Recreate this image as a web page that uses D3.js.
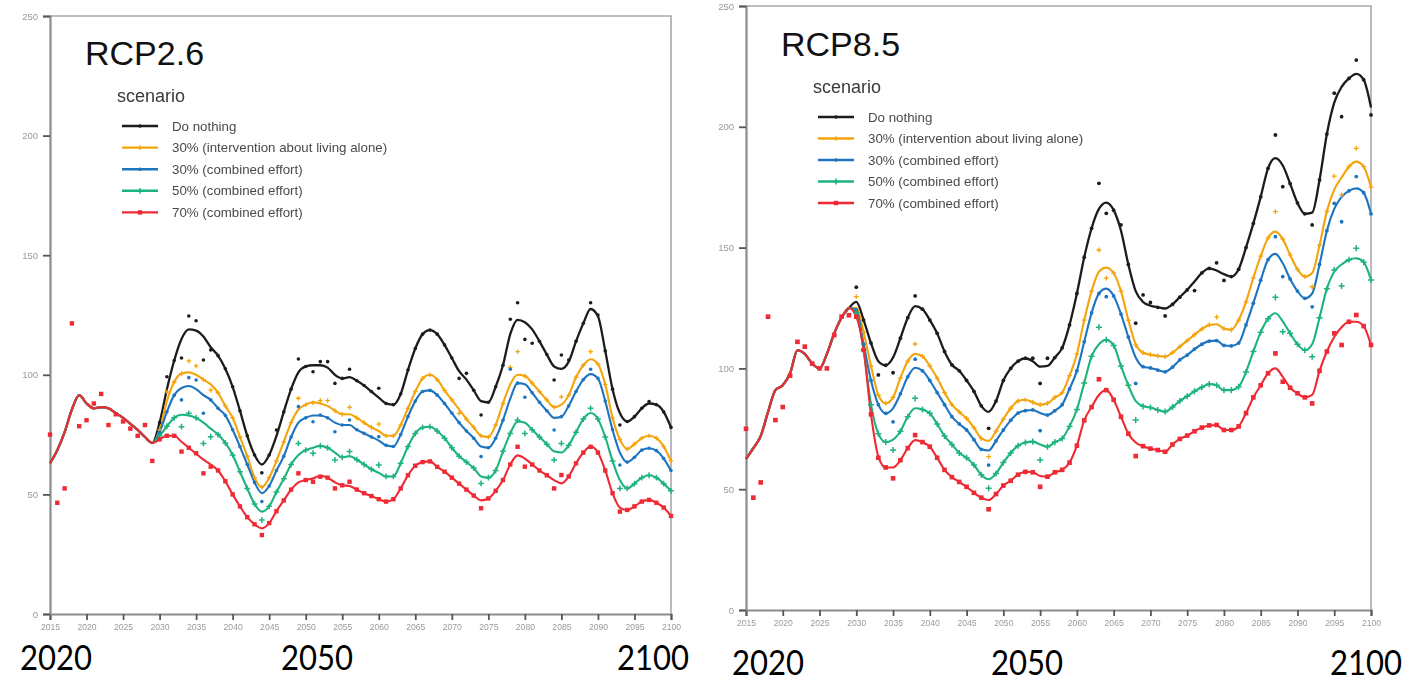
<!DOCTYPE html>
<html>
<head>
<meta charset="utf-8">
<script src="https://cdn.jsdelivr.net/npm/d3@7"></script>
<style>
  html, body { margin: 0; padding: 0; background: #fff; }
  svg { display: block; }
</style>
</head>
<body>
<svg id="chart" width="1426" height="681"></svg>
<script>
// ---- data -------------------------------------------------------------
const scenarios = [
  "Do nothing",
  "30% (intervention about living alone)",
  "30% (combined effort)",
  "50% (combined effort)",
  "70% (combined effort)"
];
const yTicks = [0, 50, 100, 150, 200, 250];
const xTicks = d3.range(2015, 2101, 5);
const xTickLabels = xTicks.map(String);
const bigYearLabels = ["2020", "2050", "2100"];

const histYears = d3.range(2015, 2030);   // 2015..2029
const projYears = d3.range(2029, 2101);   // 2029..2100

// RCP2.6
const rcp26HistSmooth = [63, 68.5, 76, 85.5, 91.5, 88, 86, 86.5, 86, 84, 82, 79.5, 77, 74, 71.5];
const rcp26HistObs    = [75, 46.5, 52.5, 121.5, 78.5, 81, 88, 92, 79, 83.5, 80.5, 77.5, 74.5, 79, 64];

const rcp26DoNothing = [71.5, 80, 94, 106, 115, 119, 118.5, 116, 111.5, 108,
  102.5, 95, 85, 74.5, 66.5, 62.5, 66.5, 74.5, 84.5, 94,
  101, 103.5, 104, 104, 103, 100, 98.5, 99, 97.5, 95.5,
  93, 90.5, 88, 87.5, 92, 102, 111, 117, 118.7, 117,
  112.5, 107, 101.5, 98, 93.5, 89, 88.5, 95, 104, 117,
  123, 122, 119, 114, 108.5, 103.5, 102.5, 105.5, 114, 121.5,
  127.5, 124.5, 110, 94, 84, 80.5, 82.5, 86, 88, 87.5,
  84.5, 78];
const rcp26Alone30 = [71.5, 77, 89, 97, 100.5, 101, 100, 98, 96, 92.5,
  87, 82, 74, 66, 57, 53, 57, 64, 72, 80,
  85.5, 87.5, 88.5, 88, 87, 85, 83.5, 83.5, 82, 80,
  78, 76.5, 74.5, 74.5, 79, 86, 93, 98.5, 100, 98,
  93.5, 89.5, 85.5, 81.5, 78, 74.5, 74, 79, 88, 96,
  100, 99.5, 96.5, 93, 89.5, 86.5, 87.5, 91.5, 99, 104,
  106.5, 104.5, 96, 82, 73, 69, 71, 73.5, 74.5, 73.5,
  70, 64];
const rcp26Comb30 = [71.5, 76, 84.5, 91.5, 94.5, 95.3, 94, 91.5, 89.5, 86,
  83, 77, 70, 62.5, 55, 50.5, 53.5, 60, 66, 74,
  80, 82, 83, 83, 82, 80, 79, 79, 77, 75.5,
  74, 72.5, 70.5, 70, 75, 82.5, 89, 93, 93.5, 91.5,
  88, 84, 80, 76.5, 73.5, 70, 69.5, 73.5, 81, 90,
  96.5, 96, 92.5, 88.5, 85, 82, 82.5, 87, 93, 98,
  100.3, 98.5, 89, 77, 67.5, 63.5, 65.5, 68.5, 69.3, 68.3,
  65, 60];
const rcp26Comb50 = [71.5, 74.5, 78.5, 82, 83.3, 83, 82, 80, 77.5, 75,
  71.5, 66.5, 59.5, 52.5, 46, 42.8, 45, 51, 56.5, 62.5,
  66.5, 68.5, 69.5, 70.3, 69.5, 67.5, 65.5, 66, 64.5, 62.5,
  60.5, 59, 57.5, 57.5, 63, 70, 75.5, 78, 78.3, 76.5,
  73.5, 69.5, 66, 63.5, 61, 57.5, 57, 60, 68, 75.5,
  80.5, 80, 77, 74, 71, 68, 67.5, 70.5, 76, 81.5,
  84, 81.5, 74, 64, 56, 52.5, 54.5, 57, 58, 57,
  54.5, 51.5];
const rcp26Comb70 = [71.5, 73, 74.5, 74.5, 72, 69.5, 67, 64.5, 62.5, 60,
  55.5, 50, 45, 40.5, 37.5, 35.8, 38, 43, 47.5, 52,
  55, 56, 56.7, 57.8, 57, 55, 53.8, 53.5, 52, 50.5,
  49.3, 48, 47, 48, 52.5, 58, 62, 63.5, 63.8, 61.5,
  59.5, 57, 54.5, 52, 49.5, 47.5, 48.3, 51.5, 56, 62.5,
  66.3, 65, 62.5, 60, 58, 56, 54.6, 57.5, 63, 67.5,
  70, 67.5, 60, 50.5, 44.5, 43.5, 45, 47, 47.7, 46.5,
  44.5, 41];

// yearly values lying clearly off the smoothed curves, [year, value]
const rcp26DoNothingPts = [[2031,99.2],[2033,107],[2034,124.6],[2035,122.6],[2036,106.2],[2037,110.4],
  [2044,59],[2046,76.9],[2049,106.6],[2051,101.3],[2052,105.5],[2053,105.5],[2054,96.4],[2056,102.3],
  [2060,94.4],[2071,98.5],[2072,100.6],[2074,83.2],[2078,123.2],[2079,130.1],[2080,114.8],[2081,113.2],
  [2084,97.8],[2085,108.3],[2086,106.2],[2089,130.1],[2090,125],[2093,79],[2097,88.8]];
const rcp26Alone30Pts = [[2031,92.9],[2034,105.8],[2035,103.7],[2037,93.6],[2049,90.2],[2051,88.3],
  [2052,89.2],[2053,89.2],[2056,86.4],[2060,79.4],[2071,83.9],[2078,103.1],[2079,109.7],[2085,90.8],[2089,109.7]];
const rcp26Comb30Pts = [[2033,89.5],[2034,98.8],[2035,97.8],[2036,83.9],[2044,47],[2049,86.7],[2051,80.4],
  [2052,83.2],[2054,76.2],[2056,81.1],[2060,74.1],[2074,65.8],[2078,102.3],[2080,90.6],[2084,76.9],
  [2089,102.3],[2093,62.3]];
const rcp26Comb50Pts = [[2033,78.3],[2034,83.9],[2036,71.3],[2037,74.1],[2044,39.3],[2049,71.3],[2051,67.2],
  [2054,64.4],[2056,67.9],[2060,62.3],[2074,54.6],[2079,81.1],[2080,75.5],[2084,64.4],[2085,71.3],
  [2089,86],[2093,52.5]];
const rcp26Comb70Pts = [[2033,67.9],[2035,67.2],[2036,58.8],[2037,61.6],[2044,33],[2049,58.8],[2051,55.3],
  [2052,57.4],[2054,52.5],[2056,55.3],[2074,44.2],[2079,69.9],[2080,61.6],[2084,52.5],[2085,58.1],
  [2089,69.9],[2093,42.8]];

// RCP8.5
const rcp85HistSmooth = [62.5, 67, 72, 82, 91, 93, 98, 107.5, 106, 102, 100, 106, 114.5, 121, 125];
const rcp85HistObs    = [75, 46.5, 52.8, 121.4, 78.6, 84, 97, 111, 109, 102, 100, 100, 113.8, 121.4, 122];

const rcp85DoNothing = [125, 127.5, 120, 110.5, 103, 101.3, 104.5, 112.5, 121, 125.8,
  124.5, 120, 114.5, 107, 101.5, 99, 95, 90.5, 84.5, 82,
  86.5, 95, 100, 103, 104.2, 103, 100.7, 101, 104.5, 108.5,
  118, 131, 146, 158, 166, 168.6, 165.5, 157, 143, 132,
  127.5, 126, 125.3, 124.8, 126.5, 129.5, 132.5, 136, 139.5, 141.4,
  140.5, 139, 138, 141, 150, 160, 171, 182.8, 187, 184,
  176.5, 168.5, 164, 164.5, 178, 197, 210, 216.5, 220, 221.9,
  219.5, 208];
const rcp85Alone30 = [125, 125, 115, 101, 89, 85.5, 88, 96, 103, 106,
  105, 101, 96, 90, 85, 82, 79.3, 75.5, 71, 70,
  74, 79, 83.5, 86.5, 87, 86, 85, 85.5, 88, 90,
  97, 106, 120, 132, 140, 141.7, 139.4, 132, 120, 110,
  106.5, 105.7, 105.2, 104.9, 106.5, 109, 111.5, 114, 116.3, 118,
  118.3, 116.5, 116, 120, 127.5, 137.5, 146.5, 154, 156.6, 153.5,
  147, 141, 138, 139.5, 151, 165, 174, 179, 183.5, 185.6,
  183.5, 175];
const rcp85Comb30 = [125, 124.2, 110, 95, 85, 81.4, 83.5, 89.5, 96.5, 100.3,
  99, 95, 90, 85, 80, 77, 74.5, 70.5, 66.5, 66,
  70, 74.5, 78.5, 81.5, 82.5, 82.8, 81.5, 80.7, 82.5, 85,
  91.5, 99, 111, 123, 131, 133, 130, 122.5, 113, 104.5,
  100.7, 100.2, 99.3, 98.6, 100.5, 103.5, 105.5, 108, 110, 111.3,
  111.5, 109.5, 109.3, 110.5, 118, 127, 136.5, 145, 147.4, 143.5,
  137, 132, 129, 131, 143, 157, 166, 171, 173.5, 174.5,
  172.7, 164];
const rcp85Comb50 = [125, 122.8, 107.6, 85, 73, 69.5, 70.5, 74, 80, 83.5,
  83, 81.4, 77, 72, 68.5, 65, 63, 60, 56, 54.1,
  56.5, 61, 65, 68, 69.3, 69.7, 68.5, 67.6, 69.5, 71,
  76, 83, 94, 105, 110, 111.8, 109.5, 101, 93, 86.5,
  84.3, 83.8, 82.8, 82.1, 84, 86.5, 88.5, 90.5, 92.2, 93.5,
  93, 91, 91, 92.4, 98.5, 107, 115, 120.5, 122.8, 119.5,
  114.5, 110, 107.5, 110, 121, 133, 140, 143, 145, 145.6,
  144, 136.6];
const rcp85Comb70 = [125, 121.4, 107.6, 81, 63.5, 59, 59, 62, 67, 70.3,
  69.5, 67.6, 63, 58, 55, 53, 51, 48.5, 46.5, 45.5,
  48, 51.5, 53.5, 56, 57.2, 57, 55.5, 55.2, 57, 58,
  61, 68, 78.5, 84, 89, 91, 87, 80, 73, 69.3,
  67.8, 66.8, 66.2, 65.5, 68.5, 70.8, 72.2, 74, 75.5, 76.4,
  76.6, 74.5, 74.5, 76, 81.5, 88, 93, 98, 100, 96.5,
  92, 89.7, 88, 89, 99, 107, 113, 117, 119.3, 119.3,
  117.5, 109.7];

const rcp85DoNothingPts = [[2030,133.6],[2033,97.3],[2035,98.2],[2038,130],[2048,75.2],[2054,104.2],
  [2055,93.8],[2056,104.2],[2063,176.6],[2064,164.2],[2066,159.4],[2068,118.7],[2069,130.4],[2070,127.3],
  [2072,121.7],[2076,132.2],[2079,143.7],[2080,136.4],[2087,196.6],[2088,175.2],[2092,159.4],[2095,213.9],
  [2096,204.2],[2098,227.6],[2100,204.9]];
const rcp85Alone30Pts = [[2030,129.7],[2038,110.1],[2048,63.5],[2063,149],[2064,137.4],[2068,109.7],
  [2079,121.2],[2087,164.9],[2092,133.8],[2095,179.6],[2096,171.8],[2098,191.1]];
const rcp85Comb30Pts = [[2035,77.9],[2038,103.8],[2048,60],[2055,74.2],[2064,129.7],[2068,93.8],
  [2087,154.5],[2088,138],[2092,125.5],[2095,168.3],[2096,160.7],[2098,179.4]];
const rcp85Comb50Pts = [[2035,66.2],[2038,87.6],[2048,50.4],[2055,62.1],[2063,117],[2068,78.6],
  [2087,129.4],[2088,115.2],[2092,104.8],[2095,140.7],[2096,134.1],[2098,149.7]];
const rcp85Comb70Pts = [[2033,63],[2035,54.5],[2038,72.4],[2048,41.7],[2055,51],[2063,95.5],[2068,63.7],
  [2087,106.2],[2088,94.5],[2092,85.5],[2095,114.5],[2096,109.7],[2098,122.1]];

// ---- styling ----------------------------------------------------------
const colors  = ["#1c1c1c", "#f4a40c", "#1f74c0", "#1eb47c", "#ee2a34"];
const symbols = ["dot", "plus-small", "dot", "plus", "square"];
const sans = "Liberation Sans, Arial, sans-serif";

const svg = d3.select("#chart");
const defs = svg.append("defs");
defs.append("filter").attr("id", "soft")
  .attr("x", "-5%").attr("y", "-5%").attr("width", "110%").attr("height", "110%")
  .append("feGaussianBlur").attr("stdDeviation", 0.45);

function drawMarker(g, kind, color, cx, cy, k) {
  if (kind === "dot") {
    g.append("circle").attr("cx", cx).attr("cy", cy).attr("r", 1.8 * k).attr("fill", color);
  } else if (kind === "square") {
    const s = 4.4 * k;
    g.append("rect").attr("x", cx - s / 2).attr("y", cy - s / 2).attr("width", s).attr("height", s).attr("fill", color);
  } else {
    const h = (kind === "plus" ? 2.9 : 2.3) * k;
    g.append("path")
      .attr("d", `M${cx - h},${cy}H${cx + h}M${cx},${cy - h}V${cy + h}`)
      .attr("stroke", color).attr("stroke-width", kind === "plus" ? 1.5 : 1.3).attr("fill", "none");
  }
}

function drawPanel(p) {
  const x = d3.scaleLinear().domain([2015, 2100]).range([p.left, p.right]);
  const y = d3.scaleLinear().domain([0, 250]).range([p.bottom, p.top]);
  const g = svg.append("g").attr("filter", "url(#soft)");

  // frame
  g.append("path")
    .attr("d", `M${p.left},${p.top}H${p.right}V${p.bottom}`)
    .attr("fill", "none").attr("stroke", "#a9a9a9").attr("stroke-width", 1.6);

  // axes
  const xAxis = d3.axisBottom(x).tickValues(xTicks).tickFormat((d, i) => xTickLabels[i])
    .tickSize(6).tickPadding(4);
  const yAxis = d3.axisLeft(y).tickValues(yTicks).tickSize(7).tickPadding(5);
  const gx = g.append("g").attr("transform", `translate(0,${p.bottom})`).call(xAxis);
  const gy = g.append("g").attr("transform", `translate(${p.left},0)`).call(yAxis);
  [gx, gy].forEach(a => {
    a.select(".domain").attr("stroke", "#8c8c8c").attr("stroke-width", 2.2);
    a.selectAll(".tick line").attr("stroke", "#555").attr("stroke-width", 1.8);
    a.selectAll(".tick text").attr("fill", "#9a9a9a").attr("font-family", sans);
  });
  gx.selectAll(".tick text").attr("font-size", 8.6);
  gy.selectAll(".tick text").attr("font-size", 9.5);

  // smoothed lines
  const line = d3.line().x(d => x(d[0])).y(d => y(d[1])).curve(d3.curveMonotoneX);
  const hist = histYears.map((yr, i) => [yr, p.histSmooth[i]]);
  p.series.forEach((vals, s) => {
    const pts = hist.concat(projYears.slice(1).map((yr, i) => [yr, vals[i + 1]]));
    g.append("path").datum(pts).attr("d", line)
      .attr("fill", "none").attr("stroke", colors[s])
      .attr("stroke-width", s === 0 ? 2.3 : 2.1).attr("stroke-linejoin", "round");
  });

  // yearly points
  p.series.forEach((vals, s) => {
    const off = new Map(p.points[s].map(d => [d[0], d[1]]));
    projYears.forEach((yr, i) => {
      if (yr === 2029) return;
      const v = off.has(yr) ? off.get(yr) : vals[i];
      drawMarker(g, symbols[s], colors[s], x(yr), y(v), p.k);
    });
  });
  histYears.forEach((yr, i) => drawMarker(g, "square", colors[4], x(yr), y(p.histObs[i]), p.k));

  // title
  svg.append("text").attr("x", p.titleX).attr("y", p.titleY).text(p.title)
    .attr("font-family", sans).attr("font-size", 34).attr("fill", "#111");

  // legend
  const lg = svg.append("g").attr("filter", "url(#soft)");
  lg.append("text").attr("x", p.legX).attr("y", p.legTitleY).text("scenario")
    .attr("font-family", sans).attr("font-size", 18).attr("fill", "#3a3a3a");
  scenarios.forEach((name, s) => {
    const ly = p.legY0 + s * p.legStep;
    lg.append("line").attr("x1", p.legX + 5).attr("x2", p.legX + 41).attr("y1", ly).attr("y2", ly)
      .attr("stroke", colors[s]).attr("stroke-width", 2.4);
    drawMarker(lg, symbols[s], colors[s], p.legX + 23, ly, 1);
    lg.append("text").attr("x", p.legX + 55).attr("y", ly + 4.5).text(name)
      .attr("font-family", sans).attr("font-size", 13.3).attr("fill", "#4a4a4a");
  });

  // large year captions under the axis
  bigYearLabels.forEach((t, i) => {
    svg.append("text").attr("x", p.bigX[i]).attr("y", p.bigY).text(t)
      .attr("text-anchor", "middle").attr("font-family", "Lato, Carlito, sans-serif")
      .attr("font-size", 35).attr("textLength", 72).attr("lengthAdjust", "spacingAndGlyphs").attr("fill", "#000");
  });
}

drawPanel({
  left: 50, right: 671, top: 16, bottom: 614, k: 1,
  histSmooth: rcp26HistSmooth, histObs: rcp26HistObs,
  series: [rcp26DoNothing, rcp26Alone30, rcp26Comb30, rcp26Comb50, rcp26Comb70],
  points: [rcp26DoNothingPts, rcp26Alone30Pts, rcp26Comb30Pts, rcp26Comb50Pts, rcp26Comb70Pts],
  title: "RCP2.6", titleX: 85, titleY: 65,
  legX: 117, legTitleY: 102, legY0: 126, legStep: 21.6,
  bigX: [56, 317, 653], bigY: 670
});
drawPanel({
  left: 746, right: 1371, top: 6, bottom: 610, k: 1.05,
  histSmooth: rcp85HistSmooth, histObs: rcp85HistObs,
  series: [rcp85DoNothing, rcp85Alone30, rcp85Comb30, rcp85Comb50, rcp85Comb70],
  points: [rcp85DoNothingPts, rcp85Alone30Pts, rcp85Comb30Pts, rcp85Comb50Pts, rcp85Comb70Pts],
  title: "RCP8.5", titleX: 781, titleY: 56,
  legX: 813, legTitleY: 93, legY0: 117, legStep: 21.5,
  bigX: [768, 1027, 1366], bigY: 675
});
</script>
</body>
</html>
